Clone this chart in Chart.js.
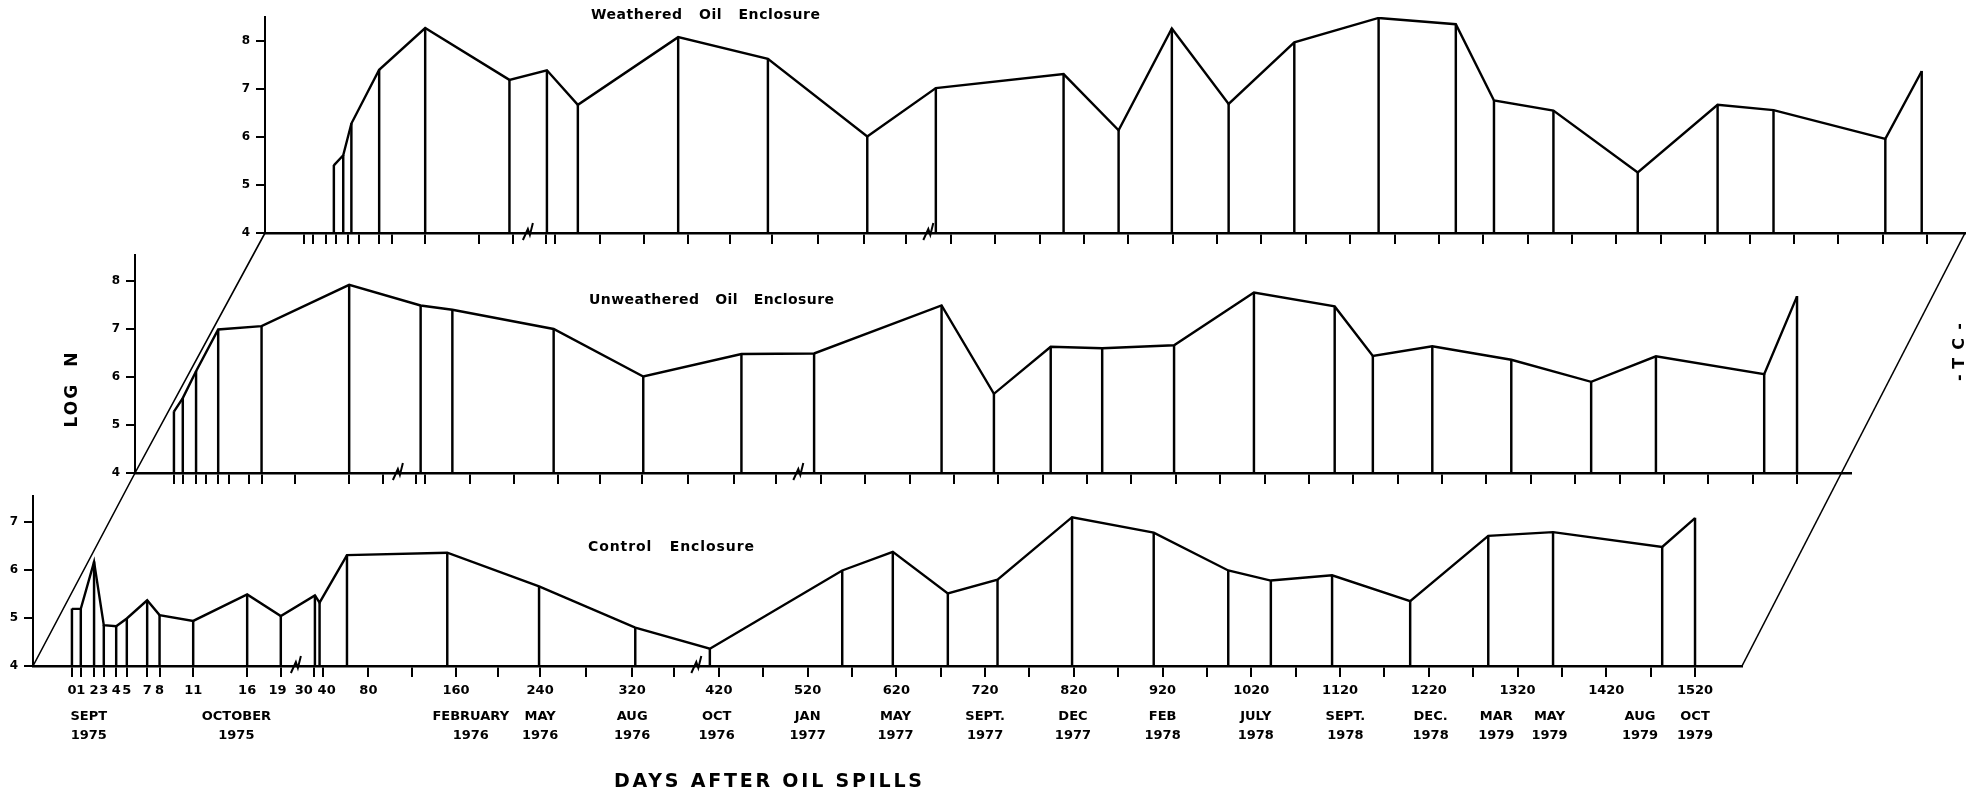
<!DOCTYPE html>
<html>
<head>
<meta charset="utf-8">
<title>Log N after oil spills</title>
<script src="https://cdn.jsdelivr.net/npm/chart.js@4.4.1/dist/chart.umd.min.js"></script>
<style>
  html, body { margin: 0; padding: 0; background: #fff; }
  #wrap { position: relative; width: 1966px; height: 795px; }
  #wrap canvas { position: absolute; left: 0; top: 0; }
</style>
</head>
<body>
<div id="wrap">
  <canvas id="weathered" width="1966" height="795"></canvas>
  <canvas id="unweathered" width="1966" height="795"></canvas>
  <canvas id="control" width="1966" height="795"></canvas>
</div>
<script>
// ================================
// Broken time axis: days after spill -> axis slot
// ================================
const axisDays  = [0, 1, 2, 3, 4, 5, 7, 8, 11, 16, 19, 30, 40, 80, 160, 240, 320, 360, 420, 1520];
const axisSlots = [0.44, 0.54, 0.69, 0.80, 0.94, 1.06, 1.29, 1.43, 1.81, 2.42, 2.80, 3.175, 3.28, 3.79, 4.78, 5.73, 6.77, 7.24, 7.75, 18.78];

const tickDays = [0, 1, 2, 3, 4, 5, 7, 8, 11, 16, 19, 30, 40, 80, 120, 160, 200, 240, 280, 320, 360,
    420, 470, 520, 570, 620, 670, 720, 770, 820, 870, 920, 970, 1020, 1070, 1120, 1170,
    1220, 1270, 1320, 1370, 1420, 1470, 1520];

const dayLabels = ["0", "1", "2", "3", "4", "5", "7", "8", "11", "16", "19", "30", "40", "80",
    "160", "240", "320", "420", "520", "620", "720", "820", "920", "1020", "1120", "1220",
    "1320", "1420", "1520"];
// crowded labels sit a little apart from their ticks
const crowdedLabelAt = { "19": 18.7, "30": 26.6, "40": 43 };

const monthLabels = [["SEPT", "1975"], ["OCTOBER", "1975"], ["FEBRUARY", "1976"], ["MAY", "1976"],
    ["AUG", "1976"], ["OCT", "1976"], ["JAN", "1977"], ["MAY", "1977"], ["SEPT.", "1977"],
    ["DEC", "1977"], ["FEB", "1978"], ["JULY", "1978"], ["SEPT.", "1978"], ["DEC.", "1978"],
    ["MAR", "1979"], ["MAY", "1979"], ["AUG", "1979"], ["OCT", "1979"]];
const monthDays = [1.6, 15, 174, 240, 320, 417, 520, 619, 720, 819, 920, 1025, 1126, 1222, 1296, 1356, 1458, 1532];

const breakDays = [24, 390];

// ================================
// Log N series
// ================================
const weatheredDays = [2.8, 3.6, 4.3, 7, 11, 18.7, 31, 60, 151, 236, 323, 400, 547, 609, 669, 733,
    807, 902, 989, 1032, 1099, 1194, 1284, 1347, 1473, 1514];
const weatheredLogN = [5.41, 5.62, 6.28, 7.40, 8.27, 7.19, 7.39, 6.67, 8.08, 7.63, 6.01, 7.02, 7.31,
    6.14, 8.26, 6.69, 7.97, 8.48, 8.35, 6.76, 6.55, 5.26, 6.67, 6.56, 5.96, 7.37];

const unweatheredDays = [0, 1, 2, 4, 8, 16, 35, 64, 156, 241, 327, 411, 556, 615, 679, 737, 818,
    908, 999, 1042, 1109, 1198, 1288, 1361, 1483, 1521];
const unweatheredLogN = [5.28, 5.56, 6.12, 6.99, 7.06, 7.92, 7.49, 7.40, 7.00, 6.01, 6.48, 6.49,
    7.49, 5.65, 6.63, 6.60, 6.66, 7.76, 7.47, 6.44, 6.64, 6.36, 5.90, 6.43, 6.06, 7.68];

const controlDays = [0, 1, 2, 3, 4, 5, 7, 8, 11, 16, 19, 31, 36, 61, 152, 239, 323, 408, 559, 616,
    678, 734, 818, 910, 994, 1042, 1111, 1199, 1287, 1360, 1483, 1521];
const controlLogN = [5.19, 5.19, 6.17, 4.85, 4.83, 4.99, 5.37, 5.06, 4.94, 5.49, 5.04, 5.47, 5.32,
    6.31, 6.36, 5.66, 4.80, 4.36, 5.99, 6.38, 5.51, 5.80, 7.10, 6.78, 5.99, 5.78, 5.89, 5.35,
    6.71, 6.79, 6.48, 7.08];

// ================================
// Layout
// ================================
const FONT = "'DejaVu Sans', 'Liberation Sans', sans-serif";
const UNIT_PX = 48;    // one log unit
const SLOT_PX = 88.5;  // one axis slot
const Y_W = 30, X_H = 12, NUM_H = 26, MONTH_H = 60;

const panels = [
    { canvas: "weathered", title: "Weathered   Oil   Enclosure", days: weatheredDays, logN: weatheredLogN,
      yTop: 8.5, yTicks: [4, 5, 6, 7, 8], area: { left: 265, right: 1965, bottom: 233 }, titleBox: [591, 15, 229] },
    { canvas: "unweathered", title: "Unweathered   Oil   Enclosure", days: unweatheredDays, logN: unweatheredLogN,
      yTop: 8.55, yTicks: [4, 5, 6, 7, 8], area: { left: 135, right: 1851, bottom: 473 }, titleBox: [589, 300, 245] },
    { canvas: "control", title: "Control   Enclosure", days: controlDays, logN: controlLogN,
      yTop: 7.55, yTicks: [4, 5, 6, 7], area: { left: 33, right: 1742, bottom: 666 }, titleBox: [588, 547, 166] }
];

function slot(day) {
    for (let i = 1; i < axisDays.length; i++) {
        if (day <= axisDays[i]) {
            const t = (day - axisDays[i - 1]) / (axisDays[i] - axisDays[i - 1]);
            return axisSlots[i - 1] + t * (axisSlots[i] - axisSlots[i - 1]);
        }
    }
    return axisSlots[axisSlots.length - 1];
}

// text stretched to a given width
function spaced(ctx, text, x, y, width, font) {
    ctx.save();
    ctx.font = font;
    ctx.letterSpacing = "0px";
    const natural = ctx.measureText(text).width;
    ctx.letterSpacing = ((width - natural) / (text.length - 1)) + "px";
    ctx.textAlign = "left";
    ctx.textBaseline = "middle";
    ctx.fillStyle = "#000";
    ctx.fillText(text, x, y);
    ctx.restore();
}

function spacedUp(ctx, text, cx, cy, length, font) {
    ctx.save();
    ctx.translate(cx, cy);
    ctx.rotate(-Math.PI / 2);
    spaced(ctx, text, -length / 2, 0, length, font);
    ctx.restore();
}

// ================================
// Plugins
// ================================
function panelDecor(p) {
    return {
        id: "decor",
        afterDraw(chart) {
            const ctx = chart.ctx;
            const xs = chart.scales.x;
            const base = chart.scales.y.getPixelForValue(4);

            // axis break marks
            ctx.save();
            ctx.strokeStyle = "#000";
            ctx.lineWidth = 2;
            breakDays.forEach(d => {
                const bx = xs.getPixelForValue(slot(d));
                ctx.beginPath();
                ctx.moveTo(bx - 5, base + 7);
                ctx.lineTo(bx, base - 4);
                ctx.lineTo(bx + 2, base + 2);
                ctx.lineTo(bx + 5, base - 10);
                ctx.stroke();
            });
            ctx.restore();

            spaced(ctx, p.title, p.titleBox[0], p.titleBox[1], p.titleBox[2], "bold 14px " + FONT);
        }
    };
}

const charts = [];

const framePlugin = {
    id: "frame",
    afterDraw(chart) {
        const ctx = chart.ctx;
        const origin = c => [c.scales.x.left, c.scales.y.getPixelForValue(4)];
        const axisEnd = c => [c.scales.x.right, c.scales.y.getPixelForValue(4)];

        ctx.save();
        ctx.strokeStyle = "#000";
        ctx.lineWidth = 1.6;

        ctx.beginPath();
        [chart, charts[1], charts[0]].forEach((c, i) => {
            const [x, y] = origin(c);
            if (i === 0) ctx.moveTo(x, y); else ctx.lineTo(x, y);
        });
        ctx.stroke();

        ctx.beginPath();
        ctx.moveTo(...axisEnd(chart));
        ctx.lineTo(...axisEnd(charts[0]));
        ctx.stroke();
        ctx.restore();

        spaced(ctx, "DAYS AFTER OIL SPILLS", 614, 782, 308, "bold 19px " + FONT);
        spacedUp(ctx, "LOG  N", 73, 390, 75, "bold 17px " + FONT);
        spacedUp(ctx, "-TC-", 1960, 352, 58, "bold 16px " + FONT);
    }
};

// ================================
// Panels
// ================================
function buildPanel(p, isControl) {
    const top = p.area.bottom - (p.yTop - 4) * UNIT_PX;
    const xMax = (p.area.right - p.area.left) / SLOT_PX;
    const below = isControl ? X_H + NUM_H + MONTH_H : X_H;

    const scales = {
        x: {
            type: "linear",
            min: 0,
            max: xMax,
            offset: false,
            weight: 0,
            grid: { display: true, drawOnChartArea: false, drawTicks: true, tickLength: 11, color: "#000", lineWidth: 2, offset: false },
            border: { display: true, color: "#000", width: 2.5 },
            ticks: { display: false },
            afterBuildTicks: s => { s.ticks = tickDays.map(d => ({ value: slot(d) })); },
            afterFit: s => { s.height = X_H; }
        },
        y: {
            type: "linear",
            min: 4,
            max: p.yTop,
            beginAtZero: false,
            grid: { display: true, drawOnChartArea: false, tickLength: 9, color: "#000", lineWidth: 2 },
            border: { display: true, color: "#000", width: 2 },
            ticks: { color: "#000", padding: 6, font: { family: FONT, size: 12, weight: "bold" } },
            afterBuildTicks: s => { s.ticks = p.yTicks.map(v => ({ value: v })); },
            afterFit: s => { s.width = Y_W; }
        }
    };

    if (isControl) {
        scales.xNum = {
            type: "linear",
            position: "bottom",
            min: 0,
            max: xMax,
            offset: false,
            weight: 1,
            grid: { display: false, drawTicks: false },
            border: { display: false },
            ticks: {
                autoSkip: false, maxRotation: 0, minRotation: 0, padding: 5, color: "#000",
                font: { family: FONT, size: 13, weight: "bold" },
                callback: (v, i) => dayLabels[i]
            },
            afterBuildTicks: s => {
                s.ticks = dayLabels.map(l => ({ value: slot(crowdedLabelAt[l] ?? Number(l)) }));
            },
            afterFit: s => { s.height = NUM_H; }
        };
        scales.xMonth = {
            type: "linear",
            position: "bottom",
            min: 0,
            max: xMax,
            offset: false,
            weight: 2,
            grid: { display: false, drawTicks: false },
            border: { display: false },
            ticks: {
                autoSkip: false, maxRotation: 0, minRotation: 0, padding: 4, color: "#000",
                font: { family: FONT, size: 13, weight: "bold", lineHeight: 1.4 },
                callback: (v, i) => monthLabels[i]
            },
            afterBuildTicks: s => { s.ticks = monthDays.map(d => ({ value: slot(d) })); },
            afterFit: s => { s.height = MONTH_H; }
        };
    }

    const plugins = [panelDecor(p)];
    if (isControl) plugins.push(framePlugin);

    return new Chart(document.getElementById(p.canvas), {
        type: "line",
        data: {
            datasets: [
                {
                    type: "line",
                    data: p.days.map((d, i) => ({ x: slot(d), y: p.logN[i] })),
                    borderColor: "#000",
                    borderWidth: 2.4,
                    pointRadius: 0,
                    tension: 0,
                    fill: false
                },
                {
                    type: "bar",
                    data: p.days.map((d, i) => ({ x: slot(d), y: [4, p.logN[i]] })),
                    backgroundColor: "#000",
                    borderWidth: 0,
                    barThickness: 1.8
                }
            ]
        },
        options: {
            responsive: false,
            devicePixelRatio: 1,
            animation: false,
            events: [],
            layout: {
                padding: {
                    left: p.area.left - Y_W,
                    right: 1966 - p.area.right,
                    top: top,
                    bottom: 795 - p.area.bottom - below
                }
            },
            plugins: {
                legend: { display: false },
                tooltip: { enabled: false }
            },
            scales: scales
        },
        plugins: plugins
    });
}

panels.forEach((p, i) => {
    charts.push(buildPanel(p, i === 2));
});
</script>
</body>
</html>
